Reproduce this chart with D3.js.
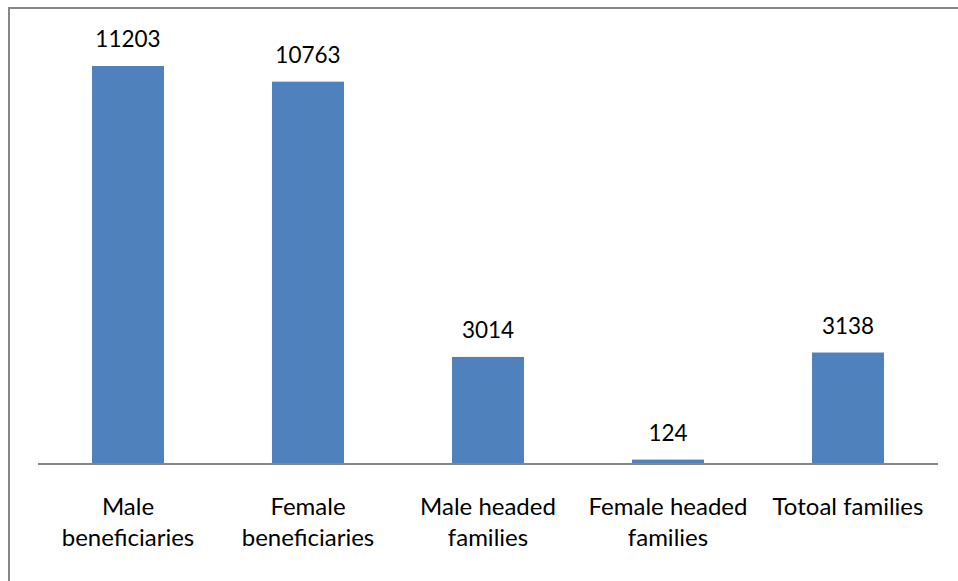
<!DOCTYPE html>
<html>
<head>
<meta charset="utf-8">
<script src="https://cdn.jsdelivr.net/npm/d3@7"></script>
<style>
  body { margin: 0; background: #fff; }
  svg text { font-family: Lato, "Open Sans", sans-serif; fill: #000; }
</style>
</head>
<body>
<div id="chart"></div>
<script>
// categories and values
var categories = [
  ['Male', 'beneficiaries'],
  ['Female', 'beneficiaries'],
  ['Male headed', 'families'],
  ['Female headed', 'families'],
  ['Totoal families']
];
var values = [11203, 10763, 3014, 124, 3138];
var yMax = 12000;

var width = 958, height = 581;
var plot = {left: 38, right: 938, top: 37.7, bottom: 464};

var svg = d3.select('#chart').append('svg')
  .attr('width', width)
  .attr('height', height);

// outer frame (runs off the right and bottom edges)
svg.append('rect')
  .attr('x', 9).attr('y', 8)
  .attr('width', 960).attr('height', 600)
  .style('fill', 'none')
  .style('stroke', '#868686')
  .style('stroke-width', 2);

var x = d3.scaleBand()
  .domain(d3.range(values.length))
  .range([plot.left, plot.right])
  .paddingInner(0.6)
  .paddingOuter(0.3);

var y = d3.scaleLinear()
  .domain([0, yMax])
  .range([plot.bottom, plot.top]);

var g = svg.append('g');

g.selectAll('rect.bar')
  .data(values)
  .enter().append('rect')
  .attr('class', 'bar')
  .attr('x', function(d, i){ return x(i); })
  .attr('y', function(d){ return y(d); })
  .attr('width', x.bandwidth())
  .attr('height', function(d){ return y(0) - y(d); })
  .style('fill', '#4F81BD');

// baseline
g.append('line')
  .attr('x1', plot.left).attr('x2', plot.right)
  .attr('y1', y(0)).attr('y2', y(0))
  .style('stroke', '#868686')
  .style('stroke-width', 2);

// value labels
g.selectAll('text.val')
  .data(values)
  .enter().append('text')
  .attr('class', 'val')
  .attr('x', function(d, i){ return x(i) + x.bandwidth() / 2; })
  .attr('y', function(d){ return y(d) - 19; })
  .attr('text-anchor', 'middle')
  .style('font-size', '22.5px')
  .text(function(d){ return d; });

// category labels, wrapped as in the original
var cats = g.selectAll('text.cat')
  .data(categories)
  .enter().append('text')
  .attr('class', 'cat')
  .attr('text-anchor', 'middle')
  .style('font-size', '24px');

cats.each(function(lines, i){
  var t = d3.select(this);
  lines.forEach(function(line, k){
    t.append('tspan')
      .attr('x', x(i) + x.bandwidth() / 2)
      .attr('y', 515 + k * 31)
      .text(line);
  });
});
</script>
</body>
</html>
